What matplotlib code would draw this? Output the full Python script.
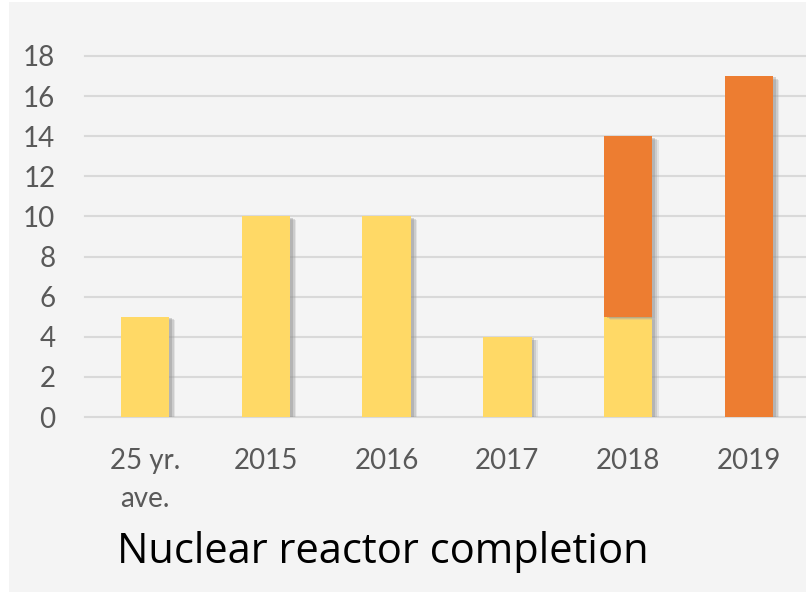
import matplotlib
matplotlib.use("Agg")
import matplotlib.pyplot as plt
from matplotlib.patches import Rectangle
import matplotlib.patheffects as pe
import numpy as np

categories = ["25 yr.\nave.", "2015", "2016", "2017", "2018", "2019"]
series_a = [5, 10, 10, 4, 5, 0]    # yellow
series_b = [0, 0, 0, 0, 9, 17]     # orange
y_ticks = [0, 2, 4, 6, 8, 10, 12, 14, 16, 18]
title = "Nuclear reactor completion"

W, H = 806, 594
fig = plt.figure(figsize=(W / 100, H / 100), dpi=100)
fig.patch.set_facecolor("white")
bg = Rectangle((9 / W, 2 / H), (806 - 9) / W, (592 - 2) / H,
               transform=fig.transFigure, facecolor="#f4f4f4",
               edgecolor="none", zorder=-10)
fig.add_artist(bg)

left, right, top, bottom = 84.6, 809.4, 56, 417
ax = fig.add_axes([left / W, 1 - bottom / H, (right - left) / W, (bottom - top) / H])
ax.set_zorder(5)
ax.set_facecolor("none")
for s in ax.spines.values():
    s.set_visible(False)

x = np.arange(len(categories))
shadow = [pe.SimplePatchShadow(offset=(4.5, -2.5), shadow_rgbFace="#b0b0b0", alpha=0.25),
          pe.SimplePatchShadow(offset=(3.5, -2), shadow_rgbFace="#9a9a9a", alpha=0.3),
          pe.SimplePatchShadow(offset=(2, -1), shadow_rgbFace="#8a8a8a", alpha=0.35),
          pe.Normal()]
ax.bar(x, series_a, width=0.4, color="#FFD966", zorder=3, path_effects=shadow)
ax.bar(x, series_b, width=0.4, bottom=series_a, color="#ED7D31", zorder=3,
       path_effects=shadow)

ax.set_xlim(-0.5, len(categories) - 0.5)
ax.set_ylim(0, 18)
ax.set_yticks(y_ticks)
ax.set_xticks(x)
ax.set_xticklabels(categories, linespacing=1.6)
for yt in y_ticks:
    ax.axhline(yt, color="#d9d9d9", lw=1.5, zorder=1, clip_on=False)

ax.tick_params(axis="both", length=0, colors="#595959", labelsize=20)
ax.tick_params(axis="y", pad=21)
ax.tick_params(axis="x", pad=22)
for lab in ax.get_xticklabels() + ax.get_yticklabels():
    lab.set_fontfamily("Lato")
    lab.set_color("#595959")

fig.text(117 / W, 1 - 563 / H, title, fontsize=30, fontfamily="Open Sans",
         color="black", ha="left", va="baseline")

fig.savefig("out.png", dpi=100, facecolor=fig.get_facecolor())
